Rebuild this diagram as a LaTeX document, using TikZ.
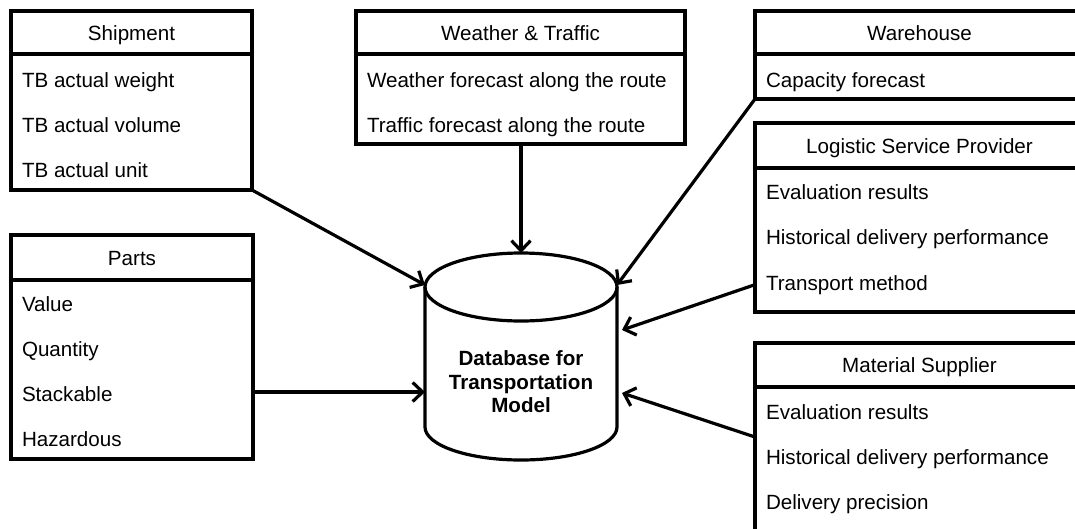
\documentclass[tikz,border=0pt]{standalone}
\usepackage{fontspec}
\setmainfont{Liberation Sans}
\usetikzlibrary{arrows.meta}
\begin{document}
\begin{tikzpicture}[x=1pt,y=-1pt,
  every node/.style={font=\fontsize{20.6}{24}\selectfont},
  cell/.style={draw, line width=3.2pt, fill=white, inner sep=0pt, outer sep=0pt, anchor=north west},
  hdr/.style={cell, text depth=0pt, text height=15pt},
  item/.style={anchor=base west, inner sep=0pt, outer sep=0pt},
  conn/.style={line width=3.2pt, -{Straight Barb[length=10pt,width=19pt]}},
  dbline/.style={line width=3.2pt}
]
\useasboundingbox (0,0) rectangle (1075,528);
\clip (0,0) rectangle (1075,528);

% Shipment
\node[hdr, minimum width=241pt, minimum height=43pt] (shipH) at (11,11) {Shipment};
\node[cell, minimum width=241pt, minimum height=136pt] (ship) at (11,54) {};
\node[item] (ship1) at (22,87.5) {TB actual weight};
\node[item] (ship2) at (22,132.5) {TB actual volume};
\node[item] (ship3) at (22,177.5) {TB actual unit};

% Weather & Traffic
\node[hdr, minimum width=329pt, minimum height=43pt] (wtH) at (356,11) {Weather \& Traffic};
\node[cell, minimum width=329pt, minimum height=90pt] (wt) at (356,54) {};
\node[item] (wt1) at (367,87.5) {Weather forecast along the route};
\node[item] (wt2) at (367,132.5) {Traffic forecast along the route};

% Warehouse
\node[hdr, minimum width=329pt, minimum height=43pt] (whH) at (755,11) {Warehouse};
\node[cell, minimum width=329pt, minimum height=45pt] (wh) at (755,54) {};
\node[item] (wh1) at (766,87.5) {Capacity forecast};

% Logistic Service Provider
\node[hdr, minimum width=329pt, minimum height=45pt] (lspH) at (755,123) {Logistic Service Provider};
\node[cell, minimum width=329pt, minimum height=144pt] (lsp) at (755,168) {};
\node[item] (lsp1) at (766,199.5) {Evaluation results};
\node[item] (lsp2) at (766,244.5) {Historical delivery performance};
\node[item] (lsp3) at (766,290) {Transport method};

% Parts
\node[hdr, minimum width=242pt, minimum height=45pt] (partsH) at (11,235) {Parts};
\node[cell, minimum width=242pt, minimum height=179pt] (parts) at (11,280) {};
\node[item] (parts1) at (22,311) {Value};
\node[item] (parts2) at (22,356) {Quantity};
\node[item] (parts3) at (22,401) {Stackable};
\node[item] (parts4) at (22,446) {Hazardous};

% Material Supplier
\node[hdr, minimum width=329pt, minimum height=44pt] (msH) at (755,343) {Material Supplier};
\node[cell, minimum width=329pt, minimum height=160pt] (ms) at (755,387) {};
\node[item] (ms1) at (766,419.5) {Evaluation results};
\node[item] (ms2) at (766,464.5) {Historical delivery performance};
\node[item] (ms3) at (766,509.5) {Delivery precision};
\coordinate (msOut) at (755,437);

% Database cylinder
\draw[dbline, fill=white] (425,287) -- (425,427)
  arc[start angle=180, end angle=0, x radius=96, y radius=33] -- (617,287)
  arc[start angle=0, end angle=-180, x radius=96, y radius=34] -- cycle;
\draw[dbline] (425,287) arc[start angle=180, end angle=0, x radius=96, y radius=34];
\node[font=\fontsize{20.6}{23.5}\selectfont\bfseries, align=center] (db) at (521,382) {Database for\\Transportation\\Model};
\coordinate (dbTL) at (425,285);
\coordinate (dbTop) at (521,253);
\coordinate (dbTR) at (617,285);
\coordinate (dbL) at (425,392);
\coordinate (dbR1) at (622,330);
\coordinate (dbR2) at (622,393);

% Connectors
\draw[conn] (ship.south east) -- (dbTL);
\draw[conn] (dbL -| parts.east) -- (dbL);
\draw[conn] (dbTop |- wt.south) -- (dbTop);
\draw[conn] (wh.south west) -- (dbTR);
\draw[conn] (lsp.west |- lsp3) -- (dbR1);
\draw[conn] (msOut) -- (dbR2);
\end{tikzpicture}
\end{document}
